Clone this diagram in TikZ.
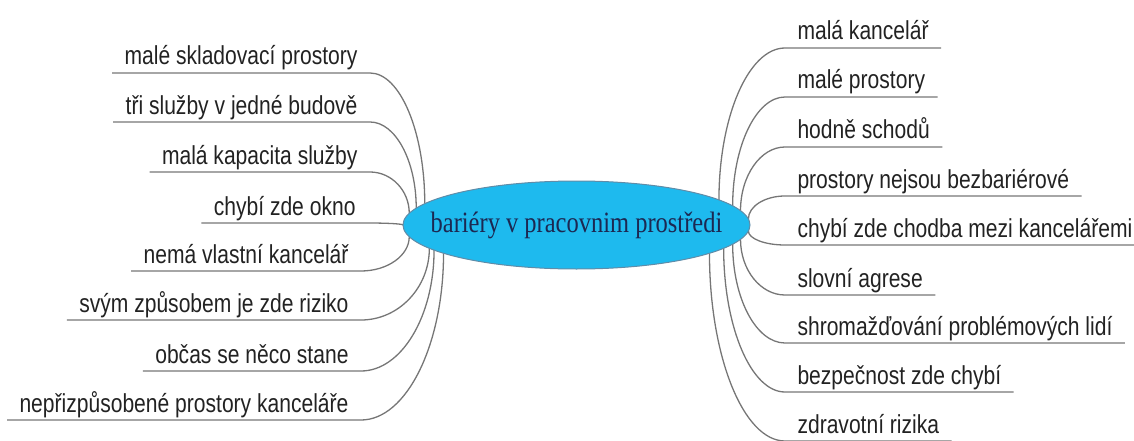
\documentclass[tikz,border=0pt]{standalone}
\usepackage{fontspec}
\newfontfamily\leaffont[FakeStretch=0.81]{Liberation Sans}
\newfontfamily\hubfont[FakeStretch=0.83]{Liberation Serif}
\usetikzlibrary{shapes.geometric,calc}
\pgfdeclarelayer{wires}
\pgfsetlayers{wires,main}
\definecolor{hubfill}{RGB}{30,186,238}
\definecolor{hubline}{RGB}{96,140,168}
\definecolor{hubtext}{RGB}{28,40,82}
\definecolor{leaftext}{RGB}{34,34,34}
\definecolor{wirecol}{RGB}{118,118,118}
\tikzset{
  hub/.style={ellipse, draw=hubline, line width=1pt, fill=hubfill,
    minimum width=347pt, minimum height=88pt, inner sep=0pt, outer sep=0pt,
    text=hubtext, font=\hubfont\fontsize{29.5}{32}\selectfont},
  leaf/.style={inner xsep=12.5pt, inner ysep=8pt, text depth=0pt, outer sep=0pt,
    text=leaftext, font=\leaffont\fontsize{26}{30}\selectfont},
  lleaf/.style={leaf, anchor=south east},
  rleaf/.style={leaf, anchor=south west},
  wire/.style={draw=wirecol, line width=1.3pt},
  % quarter-ellipse curve: leaves horizontally, arrives vertically
  quartercurve/.style={to path={.. controls ($(\tikztostart)!0.55!(\tikztotarget|-\tikztostart)$)
      and ($(\tikztotarget)!0.55!(\tikztotarget|-\tikztostart)$) .. (\tikztotarget)}}
}
\begin{document}
\begin{tikzpicture}[x=1pt,y=1pt]
  \useasboundingbox (0,0) rectangle (1134,-441);

  % central topic
  \node[hub] (hub) at (576.5,-225) {\makebox[0pt][c]{bariéry v pracovnim prostředi}};

  % left branches
  \node[lleaf] (a1) at (370,-73)  {malé skladovací prostory};
  \node[lleaf] (a2) at (370,-122) {tři služby v jedné budově};
  \node[lleaf] (a3) at (370,-172) {malá kapacita služby};
  \node[lleaf] (a4) at (368,-223) {chybí zde okno};
  \node[lleaf] (a5) at (361,-271) {nemá vlastní kancelář};
  \node[lleaf] (a6) at (361,-320) {svým způsobem je zde riziko};
  \node[lleaf] (a7) at (361,-371) {občas se něco stane};
  \node[lleaf] (a8) at (361,-420) {nepřizpůsobené prostory kanceláře};

  % right branches
  \node[rleaf] (b1) at (785,-48)  {malá kancelář};
  \node[rleaf] (b2) at (785,-97)  {malé prostory};
  \node[rleaf] (b3) at (785,-147) {hodně schodů};
  \node[rleaf] (b4) at (785,-196) {prostory nejsou bezbariérové};
  \node[rleaf] (b5) at (785,-245) {chybí zde chodba mezi kancelářemi};
  \node[rleaf] (b6) at (785,-295) {slovní agrese};
  \node[rleaf] (b7) at (785,-343) {shromažďování problémových lidí};
  \node[rleaf] (b8) at (785,-392) {bezpečnost zde chybí};
  \node[rleaf] (b9) at (785,-441) {zdravotní rizika};

  \begin{pgfonlayer}{wires}
    \draw[wire] (a1.south west) -- (a1.south east) to[quartercurve] (hub.172);
    \draw[wire] (a2.south west) -- (a2.south east) to[quartercurve] (hub.174);
    \draw[wire] (a3.south west) -- (a3.south east) to[quartercurve] (hub.176);
    \draw[wire] (a4.south west) -- (a4.south east) to[quartercurve] (hub.180);
    \draw[wire] (a5.south west) -- (a5.south east) to[quartercurve] (hub.184);
    \draw[wire] (a6.south west) -- (a6.south east) to[quartercurve] (hub.189);
    \draw[wire] (a7.south west) -- (a7.south east) to[quartercurve] (hub.190);
    \draw[wire] (a8.south west) -- (a8.south east) to[quartercurve] (hub.192);

    \draw[wire] (b1.south east) -- (b1.south west) to[quartercurve] (hub.10);
    \draw[wire] (b2.south east) -- (b2.south west) to[quartercurve] (hub.7);
    \draw[wire] (b3.south east) -- (b3.south west) to[quartercurve] (hub.5);
    \draw[wire] (b4.south east) -- (b4.south west) to[quartercurve] (hub.2);
    \draw[wire] (b5.south east) -- (b5.south west) to[quartercurve] (hub.358);
    \draw[wire] (b6.south east) -- (b6.south west) to[quartercurve] (hub.355);
    \draw[wire] (b7.south east) -- (b7.south west) to[quartercurve] (hub.353);
    \draw[wire] (b8.south east) -- (b8.south west) to[quartercurve] (hub.351);
    \draw[wire] (b9.south east) -- (b9.south west) to[quartercurve] (hub.348);
  \end{pgfonlayer}
\end{tikzpicture}
\end{document}
